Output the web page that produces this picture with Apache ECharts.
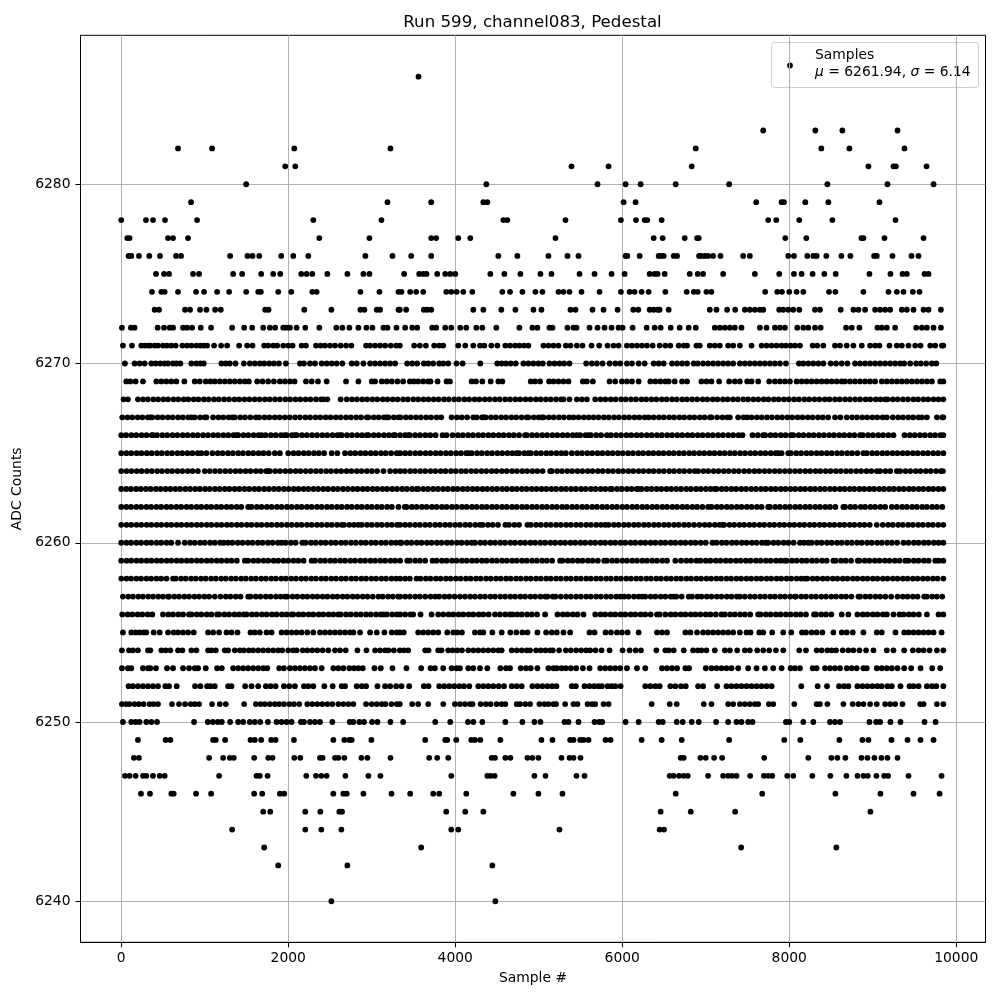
<!DOCTYPE html>
<html><head><meta charset="utf-8">
<style>html,body{margin:0;padding:0;background:#fff}#c{width:1000px;height:1000px}</style>
<script src="https://cdn.jsdelivr.net/npm/echarts@6/dist/echarts.min.js"></script>
</head><body><div id="c"></div>
<script>
const titleText = "Run 599, channel083, Pedestal";
const xName = "Sample #";
const yName = "ADC Counts";
const xTicks = [0,2000,4000,6000,8000,10000];
const yTicks = [6240,6250,6260,6270,6280];
const y6286=[3560];
const y6283=[7688,8312,8636,9296];
const y6282=[680,1088,2072,3224,6880,8384,8720,9380];
const y6281=[1964,2084,5392,5836,6832,8948,9248,9276,9644];
const y6280=[1496,4372,5704,6040,6220,6640,7280,8456,9176,9728];
const y6279=[836,3188,3712,4336,4384,6016,6160,7604,7908,7936,8192,8468,9080];
const y6278=[0,296,380,524,908,2300,3116,4576,4624,5320,5984,6164,6268,6300,6472,7748,7844,8120,8516,9272];
const y6277=[72,100,560,620,800,2372,2972,3712,3772,4036,4180,5200,6376,6484,6748,6896,6916,7952,8204,8864,8888,9140,9608];
const y6276=[88,120,212,336,464,656,716,1304,1512,1572,1652,1916,2060,2240,2924,3248,3472,3712,4516,4744,5116,5344,5476,6040,6060,6208,6436,6460,6496,6616,6656,6920,6948,6988,7028,7088,7176,7448,7528,7988,8056,8216,8288,8328,8444,8624,8732,9016,9048,9236,9464,9548];
const y6275=[416,512,572,860,932,1340,1448,1676,1820,1904,2156,2220,2288,2468,2708,2900,2972,3388,3568,3616,3656,3784,3880,3940,4000,4420,4588,4780,5020,5152,5488,5668,5872,6028,6328,6388,6424,6508,6808,6904,6968,7208,7588,7880,8056,8148,8280,8420,8556,8960,9212,9356,9408,9620,9668];
const y6274=[368,480,520,680,896,992,1148,1292,1496,1640,1672,1880,2036,2288,2340,2864,3092,3320,3356,3460,3532,3616,3892,3952,4016,4096,4204,4564,4656,4804,4960,5044,5236,5296,5368,5512,5728,5984,6088,6148,6232,6316,6516,6772,6856,6904,7008,7068,7712,7856,7912,8000,8088,8168,8476,8552,8888,9188,9288,9368,9480,9560];
const y6273=[400,452,764,824,944,1020,1124,1192,1724,1764,2192,2516,2864,2912,3060,3100,3320,3336,3412,3624,3664,3712,4216,4336,4552,4720,4936,5032,5380,5440,5644,5776,5944,6132,6192,6328,6376,6424,6448,6556,7048,7128,7256,7352,7468,7528,7588,7648,7688,7880,7928,7988,8048,8120,8308,8368,8616,8768,8828,8908,9028,9088,9148,9208,9348,9408,9488,9608,9668,9816];
const y6272=[8,116,160,436,512,580,620,740,788,848,952,1076,1328,1472,1568,1700,1780,1844,1940,1980,2020,2100,2204,2372,2576,2648,2732,2840,2936,3008,3140,3188,3296,3400,3484,3544,3724,3772,3880,3952,4060,4132,4252,4324,4492,4768,4924,4984,5128,5164,5344,5416,5452,5608,5704,5788,5872,5956,6004,6124,6292,6388,6460,6580,6688,6796,6880,7108,7168,7228,7288,7348,7428,7648,7728,7828,7888,7948,8096,8168,8228,8308,8376,8680,8748,8840,9056,9108,9168,9268,9520,9588,9648,9728,9816];
const y6271=[20,128,240,280,320,348,400,440,500,548,600,652,732,788,840,900,948,988,1028,1112,1196,1268,1412,1508,1572,1712,1760,1820,1868,1940,2000,2052,2160,2212,2332,2388,2440,2500,2560,2628,2692,2756,2932,2980,3040,3100,3160,3228,3292,3336,3508,3576,3648,3748,3808,3856,4036,4120,4216,4296,4348,4432,4504,4600,4656,4716,4768,4824,4876,5056,5116,5176,5236,5324,5380,5456,5524,5632,5724,5824,5896,5956,6056,6116,6176,6236,6296,6364,6448,6516,6576,6676,6736,6776,6888,6928,7048,7108,7168,7268,7328,7408,7548,7668,7728,7788,7848,7908,7960,8016,8068,8128,8280,8336,8408,8548,8608,8688,8768,8868,8968,9028,9080,9200,9288,9348,9428,9508,9572,9688,9748,9828,9845];
const y6270=[44,160,220,280,360,412,468,520,560,620,660,708,840,900,948,988,1200,1252,1300,1368,1468,1540,1600,1660,1712,1772,1828,1888,1972,2140,2188,2260,2320,2400,2460,2520,2580,2648,2760,2820,2900,2980,3040,3100,3160,3220,3280,3424,3484,3544,3624,3676,3736,3808,3856,3916,4016,4088,4300,4504,4556,4608,4664,4724,4816,4876,4936,4996,5048,5128,5188,5248,5304,5368,5568,5636,5696,5764,5848,5916,5976,6056,6116,6196,6268,6376,6436,6496,6596,6656,6716,6776,6856,6904,6968,7028,7088,7148,7208,7268,7328,7408,7468,7528,7588,7648,7708,7768,7828,7888,7960,8116,8168,8228,8288,8348,8408,8496,8560,8628,8696,8788,8848,8908,8968,9028,9088,9148,9208,9268,9328,9376,9448,9520,9576,9640,9708,9760];
const y6269=[60,108,172,260,420,480,540,600,660,756,880,940,1012,1068,1120,1180,1240,1300,1360,1420,1480,1528,1628,1692,1760,1828,1900,1960,2020,2076,2212,2280,2356,2460,2692,2840,3000,3040,3120,3180,3240,3308,3376,3456,3504,3556,3616,3676,3704,3788,3896,3936,4196,4248,4324,4424,4516,4564,4904,4956,5016,5124,5176,5236,5296,5356,5528,5576,5648,5848,5916,5996,6056,6116,6196,6336,6396,6456,6516,6556,6628,6716,6776,6948,7008,7068,7160,7280,7348,7408,7496,7548,7628,7760,7828,7888,7948,8008,8088,8148,8208,8268,8328,8388,8448,8508,8568,8628,8668,8728,8788,8848,8908,8968,9028,9108,9168,9228,9288,9348,9408,9468,9528,9588,9648,9708,9808,9845];
const y6268=[28,80,200,262,318,384,441,505,560,626,682,748,803,868,925,990,1046,1111,1168,1232,1290,1356,1412,1476,1535,1598,1656,1720,1778,1842,1900,1966,2022,2086,2144,2208,2266,2332,2390,2420,2468,2628,2700,2764,2822,2886,2944,3008,3066,3132,3188,3252,3310,3376,3432,3498,3556,3620,3678,3742,3800,3866,3922,3988,4044,4110,4166,4232,4288,4354,4412,4476,4532,4598,4656,4720,4778,4842,4900,4966,5022,5086,5144,5208,5266,5296,5368,5456,5516,5576,5676,5740,5798,5862,5920,5986,6042,6106,6164,6230,6286,6350,6408,6474,6530,6596,6652,6718,6774,6838,6896,6962,7018,7084,7140,7206,7262,7326,7384,7450,7506,7570,7628,7694,7750,7816,7872,7936,7994,8058,8116,8182,8238,8302,8360,8426,8482,8548,8604,8668,8726,8790,8848,8914,8970,9036,9092,9148,9176,9240,9298,9362,9420,9486,9542,9608,9664,9728,9786,9845];
const y6267=[12,74,132,196,254,318,348,372,436,494,558,616,680,738,802,840,880,944,1000,1020,1100,1164,1222,1286,1332,1360,1424,1482,1546,1612,1652,1716,1774,1838,1896,1960,2018,2082,2140,2204,2262,2326,2384,2448,2506,2570,2628,2692,2750,2814,2872,2940,2960,3024,3082,3146,3180,3200,3264,3320,3344,3408,3466,3530,3588,3652,3710,3776,3832,3956,4020,4078,4142,4216,4256,4320,4336,4364,4428,4486,4550,4608,4672,4730,4794,4856,4876,4940,4998,5036,5056,5120,5178,5242,5300,5364,5416,5476,5540,5598,5656,5716,5780,5838,5902,5960,6024,6082,6146,6204,6268,6316,6376,6440,6498,6562,6620,6684,6742,6806,6864,6928,6986,7050,7068,7136,7200,7258,7288,7388,7452,7496,7548,7612,7670,7734,7792,7856,7914,7978,8036,8100,8158,8222,8280,8344,8402,8466,8548,8612,8688,8752,8810,8874,8932,8996,9054,9118,9168,9240,9304,9362,9426,9484,9548,9588,9648,9768,9832,9845];
const y6266=[0,58,122,180,244,302,366,380,428,492,550,614,672,736,794,858,916,980,1038,1102,1160,1224,1282,1346,1380,1400,1464,1522,1586,1644,1680,1728,1792,1850,1914,1960,1980,2044,2080,2100,2164,2222,2286,2344,2408,2466,2530,2588,2620,2640,2704,2762,2826,2884,2940,2960,3024,3082,3146,3204,3260,3280,3340,3400,3436,3456,3520,3578,3642,3700,3764,3848,3896,3968,4032,4090,4154,4212,4276,4334,4398,4456,4520,4578,4642,4700,4764,4836,4856,4920,4978,5042,5100,5164,5222,5286,5344,5408,5456,5496,5560,5596,5624,5688,5746,5816,5864,5928,5986,6050,6108,6172,6230,6294,6352,6416,6474,6538,6596,6660,6718,6782,6840,6904,6962,7026,7084,7148,7206,7270,7328,7392,7440,7560,7624,7688,7712,7776,7834,7898,7956,8020,8048,8112,8170,8234,8292,8356,8414,8478,8536,8600,8658,8722,8780,8848,8880,8944,9002,9066,9124,9188,9248,9380,9444,9502,9566,9624,9688,9746,9810,9845];
const y6265=[0,62,120,184,242,306,364,428,486,550,608,672,730,794,852,916,960,1020,1092,1156,1214,1278,1336,1400,1458,1522,1580,1644,1702,1766,1840,1900,2000,2064,2122,2186,2244,2308,2366,2430,2520,2588,2680,2744,2802,2866,2924,2988,3046,3110,3168,3232,3300,3340,3400,3458,3522,3580,3644,3702,3766,3824,3888,3946,4010,4068,4132,4156,4196,4260,4318,4382,4440,4504,4562,4626,4684,4736,4764,4828,4876,4904,4968,5026,5090,5148,5212,5270,5324,5396,5460,5518,5582,5640,5704,5762,5826,5884,5948,6006,6070,6128,6192,6250,6314,6372,6436,6494,6558,6616,6680,6738,6802,6860,6924,6982,7046,7104,7168,7226,7290,7348,7412,7470,7534,7592,7656,7714,7778,7836,7868,7908,7988,8020,8084,8142,8206,8264,8328,8386,8450,8508,8572,8630,8694,8752,8816,8888,8928,8992,9050,9114,9172,9236,9294,9358,9416,9480,9538,9602,9660,9724,9782,9845];
const y6264=[0,64,122,186,244,308,366,430,488,552,610,674,732,796,854,918,1000,1060,1124,1182,1246,1304,1368,1426,1490,1548,1612,1670,1734,1760,1780,1844,1902,1966,2024,2088,2146,2210,2268,2332,2390,2454,2512,2576,2634,2698,2756,2820,2878,2942,3000,3064,3140,3220,3284,3340,3396,3460,3518,3582,3640,3704,3762,3826,3884,3948,4006,4070,4128,4192,4250,4314,4372,4436,4494,4558,4616,4680,4738,4802,4860,4924,4982,5046,5136,5156,5220,5278,5342,5400,5464,5522,5586,5644,5708,5766,5830,5888,5952,6010,6074,6132,6196,6254,6318,6376,6440,6498,6562,6620,6684,6742,6806,6868,6908,6972,7030,7094,7152,7216,7274,7338,7396,7460,7518,7582,7640,7704,7762,7826,7884,7948,8006,8070,8128,8192,8250,8314,8372,8436,8494,8558,8616,8680,8738,8802,8860,8924,8982,9048,9088,9152,9210,9288,9328,9392,9450,9514,9572,9636,9694,9758,9816,9840];
const y6263=[0,60,116,178,234,296,352,414,470,532,588,650,706,768,824,886,942,1004,1060,1122,1178,1240,1296,1358,1414,1476,1532,1594,1650,1712,1768,1830,1886,1948,2004,2066,2122,2184,2240,2302,2358,2420,2476,2538,2594,2656,2712,2774,2830,2892,2948,3010,3066,3128,3184,3246,3302,3364,3420,3482,3536,3556,3618,3674,3736,3792,3854,3910,3972,4028,4090,4146,4208,4264,4326,4382,4444,4500,4562,4618,4680,4736,4798,4854,4916,4972,5034,5090,5152,5208,5270,5326,5388,5444,5506,5562,5624,5680,5742,5798,5856,5876,5938,5994,6056,6112,6174,6196,6232,6294,6350,6412,6468,6530,6586,6648,6704,6766,6822,6884,6940,7002,7058,7108,7128,7190,7246,7308,7364,7426,7482,7544,7600,7662,7718,7780,7836,7898,7954,8016,8072,8134,8190,8252,8308,8370,8426,8488,8544,8606,8662,8724,8780,8842,8898,8960,9016,9078,9134,9196,9252,9314,9370,9432,9488,9550,9606,9668,9724,9786,9845];
const y6262=[0,62,118,182,238,302,358,422,478,542,598,662,718,782,838,902,958,1022,1078,1142,1198,1262,1318,1382,1438,1520,1560,1624,1680,1744,1800,1864,1920,1984,2040,2104,2160,2224,2280,2344,2400,2464,2520,2584,2640,2704,2760,2824,2880,2944,3000,3064,3120,3184,3240,3320,3396,3416,3480,3536,3600,3656,3720,3776,3840,3896,3960,4016,4080,4136,4200,4256,4320,4376,4440,4496,4560,4616,4680,4736,4800,4856,4920,4976,5040,5096,5160,5216,5280,5336,5400,5456,5520,5576,5640,5696,5760,5816,5880,5936,6000,6056,6120,6176,6240,6296,6360,6416,6480,6536,6600,6656,6720,6776,6840,6896,6960,7028,7068,7132,7188,7252,7308,7372,7428,7492,7548,7612,7668,7748,7768,7832,7888,7952,8008,8072,8128,8192,8248,8312,8368,8432,8488,8552,8648,8668,8732,8788,8856,8908,8972,9028,9092,9148,9228,9288,9352,9408,9472,9528,9592,9648,9712,9768,9832];
const y6261=[0,64,120,184,240,304,360,424,480,544,600,664,720,784,840,904,960,1024,1080,1144,1200,1264,1320,1384,1440,1504,1560,1624,1680,1744,1800,1864,1920,1984,2040,2104,2160,2224,2280,2344,2400,2464,2520,2584,2640,2668,2732,2788,2840,2880,2944,3000,3064,3120,3184,3240,3304,3340,3400,3456,3520,3576,3640,3696,3760,3816,3880,3936,4000,4056,4120,4176,4240,4296,4328,4392,4448,4512,4600,4644,4708,4764,4864,4904,4968,5024,5088,5144,5208,5264,5328,5384,5448,5504,5568,5624,5688,5744,5796,5836,5900,5956,6020,6076,6140,6196,6260,6316,6380,6436,6500,6556,6620,6676,6740,6796,6860,6924,6988,7044,7108,7164,7200,7220,7284,7340,7404,7460,7524,7580,7644,7700,7764,7820,7884,7940,8004,8060,8124,8180,8244,8300,8364,8420,8484,8540,8604,8660,8724,8780,8844,8900,8964,9048,9120,9184,9240,9304,9360,9424,9480,9544,9600,9664,9720,9784,9845];
const y6260=[0,62,118,182,238,302,358,422,478,542,598,680,760,824,880,944,1000,1064,1120,1184,1228,1280,1332,1396,1452,1516,1572,1636,1692,1756,1812,1876,1920,1968,2032,2088,2168,2208,2272,2328,2392,2448,2512,2568,2632,2688,2752,2808,2872,2928,2992,3048,3112,3168,3232,3288,3340,3356,3420,3476,3540,3596,3660,3716,3780,3836,3900,3956,4020,4076,4140,4196,4236,4300,4356,4420,4476,4540,4596,4660,4716,4780,4836,4900,4956,5020,5076,5140,5196,5260,5316,5380,5436,5500,5556,5620,5676,5740,5796,5860,5916,5980,6036,6100,6156,6220,6276,6340,6396,6460,6516,6580,6636,6700,6756,6820,6876,6940,7000,7080,7128,7192,7248,7312,7368,7432,7488,7552,7608,7672,7720,7748,7812,7868,7932,7988,8052,8128,8176,8228,8268,8332,8388,8452,8508,8572,8628,8692,8748,8812,8868,8932,8988,9052,9108,9172,9228,9292,9368,9428,9492,9548,9612,9668,9732,9788,9845];
const y6259=[0,64,120,184,240,304,360,424,480,544,600,664,720,784,840,904,960,1024,1080,1144,1200,1264,1320,1384,1480,1520,1584,1640,1704,1760,1824,1880,1944,2000,2064,2120,2184,2280,2320,2384,2440,2504,2560,2624,2680,2744,2800,2864,2920,2984,3040,3104,3160,3224,3280,3340,3424,3456,3520,3576,3640,3728,3776,3840,3896,3960,4016,4080,4136,4200,4256,4320,4376,4440,4496,4560,4616,4680,4736,4800,4856,4920,4976,5040,5096,5160,5256,5284,5348,5404,5468,5524,5588,5644,5708,5784,5816,5880,5936,6000,6056,6120,6176,6240,6296,6360,6416,6480,6536,6636,6704,6768,6824,6888,6936,7000,7056,7120,7176,7240,7296,7360,7416,7480,7536,7600,7656,7720,7776,7840,7896,7948,7968,8032,8088,8152,8208,8272,8328,8392,8448,8528,8556,8620,8676,8740,8820,8840,8904,8960,9024,9080,9144,9200,9264,9320,9388,9428,9492,9548,9612,9668,9748,9788,9845];
const y6258=[0,62,118,182,238,302,358,422,478,542,620,652,716,772,836,892,956,1012,1076,1132,1196,1252,1316,1372,1436,1492,1556,1612,1676,1732,1796,1852,1916,1972,2036,2092,2156,2212,2276,2332,2396,2452,2516,2572,2636,2692,2756,2812,2876,2932,2996,3052,3116,3172,3236,3292,3340,3400,3456,3536,3584,3648,3704,3768,3824,3888,3944,4008,4064,4128,4184,4248,4304,4368,4424,4488,4544,4608,4664,4728,4784,4848,4904,4968,5024,5088,5144,5208,5264,5328,5384,5448,5504,5568,5624,5688,5744,5808,5864,5928,5984,6048,6104,6168,6224,6288,6344,6408,6464,6528,6584,6648,6704,6768,6824,6888,6944,7008,7064,7128,7184,7248,7304,7368,7424,7488,7544,7608,7664,7728,7784,7848,7904,7968,8024,8088,8144,8188,8216,8280,8336,8400,8456,8520,8576,8640,8696,8760,8816,8880,8936,9000,9056,9120,9176,9240,9296,9360,9416,9480,9536,9600,9656,9720,9776,9845];
const y6257=[20,84,140,204,260,324,380,444,500,560,572,636,692,756,812,876,932,996,1052,1120,1188,1252,1308,1372,1428,1520,1548,1612,1668,1732,1788,1852,1908,1960,1988,2052,2108,2172,2228,2292,2348,2412,2468,2532,2588,2652,2708,2772,2828,2892,2948,3012,3080,3132,3196,3252,3316,3340,3400,3456,3520,3576,3640,3704,3760,3808,3872,3928,3992,4056,4116,4180,4236,4300,4356,4420,4476,4540,4596,4660,4716,4780,4836,4900,4956,5020,5076,5104,5168,5200,5264,5328,5384,5448,5504,5568,5624,5688,5744,5808,5864,5928,5976,6024,6076,6140,6196,6236,6276,6340,6396,6460,6516,6580,6616,6648,6712,6796,6836,6900,6948,7012,7068,7132,7188,7252,7308,7372,7408,7468,7532,7588,7652,7708,7772,7828,7892,7948,8012,8068,8080,8144,8200,8264,8320,8384,8440,8504,8560,8624,8680,8744,8828,8848,8912,8968,9032,9088,9152,9220,9296,9360,9416,9480,9536,9616,9648,9712,9768,9832];
const y6256=[12,76,132,196,252,316,372,500,564,620,684,740,812,840,904,960,1024,1080,1148,1172,1236,1292,1356,1412,1468,1500,1564,1620,1684,1740,1804,1860,1924,1980,2040,2060,2124,2180,2244,2300,2364,2420,2484,2540,2600,2628,2692,2748,2812,2868,2932,2988,3052,3108,3140,3180,3244,3300,3340,3400,3464,3496,3584,3716,3796,3856,3920,3976,4040,4096,4160,4216,4280,4336,4400,4476,4536,4600,4656,4688,4744,4796,4860,4916,4980,5076,5224,5288,5344,5408,5464,5536,5676,5740,5796,5860,5916,5980,6036,6100,6156,6220,6276,6340,6416,6448,6516,6580,6636,6700,6756,6820,6876,6936,7000,7056,7120,7188,7228,7292,7348,7412,7468,7532,7628,7656,7720,7776,7840,7896,7960,8016,8080,8136,8200,8296,8320,8384,8440,8504,8628,8708,8816,8880,8936,9000,9056,9120,9168,9248,9320,9368,9432,9488,9552,9648,9788,9845];
const y6255=[20,120,172,220,268,300,388,460,560,628,680,740,800,868,1040,1100,1172,1260,1320,1392,1548,1600,1660,1740,1800,1920,1980,2040,2100,2160,2228,2300,2380,2440,2500,2560,2620,2680,2740,2780,2860,2980,3060,3152,3240,3300,3336,3384,3556,3616,3676,3736,3796,3904,3976,4024,4080,4236,4296,4336,4444,4556,4660,4732,4804,4864,4984,5088,5156,5216,5296,5376,5608,5668,5800,5864,5936,5996,6064,6196,6416,6476,6536,6756,6816,6896,6968,7028,7088,7148,7208,7268,7328,7408,7488,7536,7640,7688,7796,7928,8024,8152,8200,8268,8328,8396,8528,8628,8688,8760,8888,9048,9108,9272,9376,9428,9488,9548,9608,9668,9728,9824];
const y6254=[8,92,140,200,320,348,480,532,588,680,732,840,900,1040,1080,1132,1240,1280,1360,1420,1468,1528,1580,1640,1700,1760,1820,1880,1928,2000,2060,2100,2172,2228,2288,2348,2412,2480,2560,2620,2688,2828,2936,3040,3100,3160,3200,3264,3336,3384,3436,3640,3680,3796,3836,3916,3968,4024,4080,4156,4216,4276,4336,4396,4456,4516,4556,4676,4736,4796,4856,4896,4968,5024,5080,5136,5168,5244,5324,5384,5448,5508,5568,5616,5680,5752,5848,6004,6088,6160,6224,6408,6516,6556,6616,6736,6848,6904,6948,7008,7108,7228,7288,7376,7468,7528,7616,7688,7760,7840,7928,8120,8200,8328,8388,8456,8508,8560,8640,8708,8768,8840,8920,9008,9168,9248,9376,9480,9548,9608,9680,9768,9845];
const y6253=[8,80,120,260,320,348,416,548,620,740,812,880,920,1012,1148,1204,1340,1400,1460,1520,1580,1640,1700,1748,1892,1948,2020,2080,2140,2200,2260,2320,2400,2540,2600,2660,2732,2788,2840,2892,3032,3108,3248,3416,3592,3704,3756,3856,3956,4016,4056,4156,4216,4296,4384,4540,4608,4656,4784,4848,4904,4984,5116,5176,5216,5272,5324,5384,5448,5528,5608,5736,5796,5856,5916,5976,6056,6176,6276,6476,6536,6596,6656,6756,6800,7000,7068,7128,7188,7248,7308,7388,7508,7608,7708,7808,7908,8016,8068,8128,8280,8328,8428,8488,8548,8608,8688,8748,8808,8888,8928,9048,9108,9168,9228,9296,9376,9460,9572,9712,9808];
const y6252=[88,140,200,260,320,380,440,528,572,664,884,948,1028,1068,1120,1280,1320,1484,1560,1640,1732,1788,1848,1948,2012,2080,2188,2240,2300,2432,2532,2640,2680,2820,2880,2932,3068,3160,3220,3292,3356,3448,3624,3680,3808,3868,3928,3988,4048,4104,4168,4276,4336,4396,4456,4520,4584,4676,4736,4796,4924,4984,5044,5104,5160,5212,5396,5444,5548,5608,5664,5716,5756,5824,5872,5916,5980,6276,6336,6396,6448,6576,6636,6704,6760,6908,6968,7136,7248,7308,7368,7428,7488,7548,7608,7668,7728,7788,8144,8340,8452,8596,8656,8708,8816,8876,8936,8996,9056,9108,9176,9228,9332,9440,9488,9548,9648,9708,9760,9845];
const y6251=[8,60,100,160,212,268,340,388,440,608,692,764,832,880,932,1088,1180,1252,1472,1612,1668,1720,1780,1840,1892,1948,2012,2068,2132,2228,2288,2348,2408,2468,2528,2600,2660,2720,2780,2932,3000,3060,3120,3164,3236,3300,3336,3484,3556,3676,3856,3996,4056,4116,4176,4208,4304,4368,4424,4496,4556,4600,4736,4776,4840,4896,5008,5068,5116,5176,5208,5316,5416,5464,5584,5636,5676,5776,5836,6352,6568,6652,6976,7068,7268,7328,7408,7468,7528,7588,7628,7756,7808,8060,8328,8368,8456,8648,8760,8828,8888,8968,9048,9148,9208,9268,9356,9568,9608,9768,9845];
const y6250=[20,120,172,220,300,360,428,872,1036,1096,1156,1204,1304,1400,1460,1540,1600,1664,1756,1860,1920,1980,2040,2152,2188,2260,2320,2380,2528,2736,2780,2852,2908,3004,3068,3224,3376,3760,3940,4152,4216,4324,4600,4804,4948,5020,5308,5356,5476,5668,5724,5760,6040,6196,6436,6484,6652,6724,6832,6916,7124,7268,7368,7428,7508,7560,7960,8000,8168,8288,8488,8548,8608,8960,9040,9088,9212,9332,9620,9752];
const y6249=[200,532,588,1100,1132,1244,1548,1600,1676,1796,1848,2068,2540,2672,2732,2760,2996,3640,3880,3904,4012,4192,4236,4300,4540,5032,5164,5376,5416,5496,5536,5596,5800,5860,6232,6472,6712,7280,7940,8132,8600,8876,8948,9224,9416,9572,9728];
const y6248=[152,212,1052,1220,1300,1348,1592,1760,1812,2072,2144,2380,2412,2560,2600,2672,2876,2948,3224,3688,3784,3916,4436,4476,4600,4660,4864,4924,4996,5272,5368,5416,5500,6700,6736,6936,7000,7100,7196,7700,8228,8504,8576,8672,8864,8936,9020,9104,9176,9296];
const y6247=[44,100,172,260,300,380,460,520,1172,1620,1660,1752,2216,2332,2396,2460,2684,2960,3104,3952,4384,4424,4472,4948,5080,5452,5548,6568,6616,6680,6736,6784,7028,7208,7268,7316,7368,7532,7696,7748,7796,7976,8048,8276,8492,8684,8816,8888,8940,9044,9136,9184,9428,9824];
const y6246=[236,344,600,628,896,1076,1592,1688,1900,1952,2540,2660,2700,2900,3236,3460,3736,3808,4132,4696,4996,5284,6640,7676,8552,9092,9488,9800];
const y6245=[1700,1784,2204,2384,2612,2644,3892,4120,4336,6460,6820,7352,8972];
const y6244=[1328,2204,2396,2636,3952,4036,5248,6448,6500];
const y6243=[1712,3592,7424,8564];
const y6242=[1880,2708,4444];
const y6240=[2516,4480];
const levels = [[6286,y6286],[6283,y6283],[6282,y6282],[6281,y6281],[6280,y6280],[6279,y6279],[6278,y6278],[6277,y6277],[6276,y6276],[6275,y6275],[6274,y6274],[6273,y6273],[6272,y6272],[6271,y6271],[6270,y6270],[6269,y6269],[6268,y6268],[6267,y6267],[6266,y6266],[6265,y6265],[6264,y6264],[6263,y6263],[6262,y6262],[6261,y6261],[6260,y6260],[6259,y6259],[6258,y6258],[6257,y6257],[6256,y6256],[6255,y6255],[6254,y6254],[6253,y6253],[6252,y6252],[6251,y6251],[6250,y6250],[6249,y6249],[6248,y6248],[6247,y6247],[6246,y6246],[6245,y6245],[6244,y6244],[6243,y6243],[6242,y6242],[6240,y6240]];
const points = [];
levels.forEach(function(l){ l[1].forEach(function(x){ points.push([x,l[0]]); }); });
const F = "DejaVu Sans";
const chart = echarts.init(document.getElementById('c'), null, {renderer:'canvas'});
chart.setOption({
  animation:false,
  backgroundColor:'#fff',
  textStyle:{fontFamily:F},
  title:{text:titleText,left:527.5,top:9,textAlign:'center',textStyle:{fontFamily:F,fontSize:16.67,fontWeight:'normal',color:'#000'}},
  grid:{left:80.5,right:14.5,top:35.3,bottom:57.7,show:true,borderColor:'#000',borderWidth:1,backgroundColor:'transparent',containLabel:false},
  xAxis:{type:'value',min:-488,max:10350,name:xName,nameLocation:'middle',nameGap:29,
    nameTextStyle:{fontFamily:F,fontSize:13.89,color:'#000'},
    axisLine:{show:true,onZero:false,lineStyle:{color:'#000',width:1}},
    axisTick:{show:true,length:5,lineStyle:{color:'#000',width:1},customValues:xTicks},
    axisLabel:{show:true,color:'#000',fontFamily:F,fontSize:13.89,margin:9,customValues:xTicks,formatter:function(v){return String(v);}},
    splitLine:{show:true,lineStyle:{color:'#b0b0b0',width:1}}},
  yAxis:{type:'value',min:6237.71,max:6288.31,name:yName,nameLocation:'middle',nameGap:49,nameRotate:90,
    nameTextStyle:{fontFamily:F,fontSize:13.89,color:'#000'},
    axisLine:{show:true,onZero:false,lineStyle:{color:'#000',width:1}},
    axisTick:{show:true,length:5,lineStyle:{color:'#000',width:1},customValues:yTicks},
    axisLabel:{show:true,color:'#000',fontFamily:F,fontSize:13.89,margin:10,customValues:yTicks,formatter:function(v){return String(v);}},
    splitLine:{show:true,lineStyle:{color:'#b0b0b0',width:1}}},
  series:[{type:'scatter',name:'Samples',data:points,symbol:'circle',symbolSize:5.8,itemStyle:{color:'#000',opacity:1},emphasis:{disabled:true},silent:true,z:3}],
  graphic:[{type:'group',z:100,children:[
    {type:'rect',shape:{x:771.5,y:42.5,width:207,height:45,r:3},style:{fill:'rgba(255,255,255,0.8)',stroke:'#cccccc',lineWidth:1}},
    {type:'circle',shape:{cx:790,cy:65.5,r:2.9},style:{fill:'#000'}},
    {type:'text',style:{x:815,y:48,text:'Samples',fill:'#000',font:'13.89px "DejaVu Sans"',textVerticalAlign:'top'}},
    {type:'text',style:{x:815,y:65,text:'{i|μ} = 6261.94, {i|σ} = 6.14',fill:'#000',font:'13.89px "DejaVu Sans"',textVerticalAlign:'top',rich:{i:{fontStyle:'italic',fontFamily:F,fontSize:13.89,fill:'#000'}}}}
  ]}]
});
</script></body></html>
